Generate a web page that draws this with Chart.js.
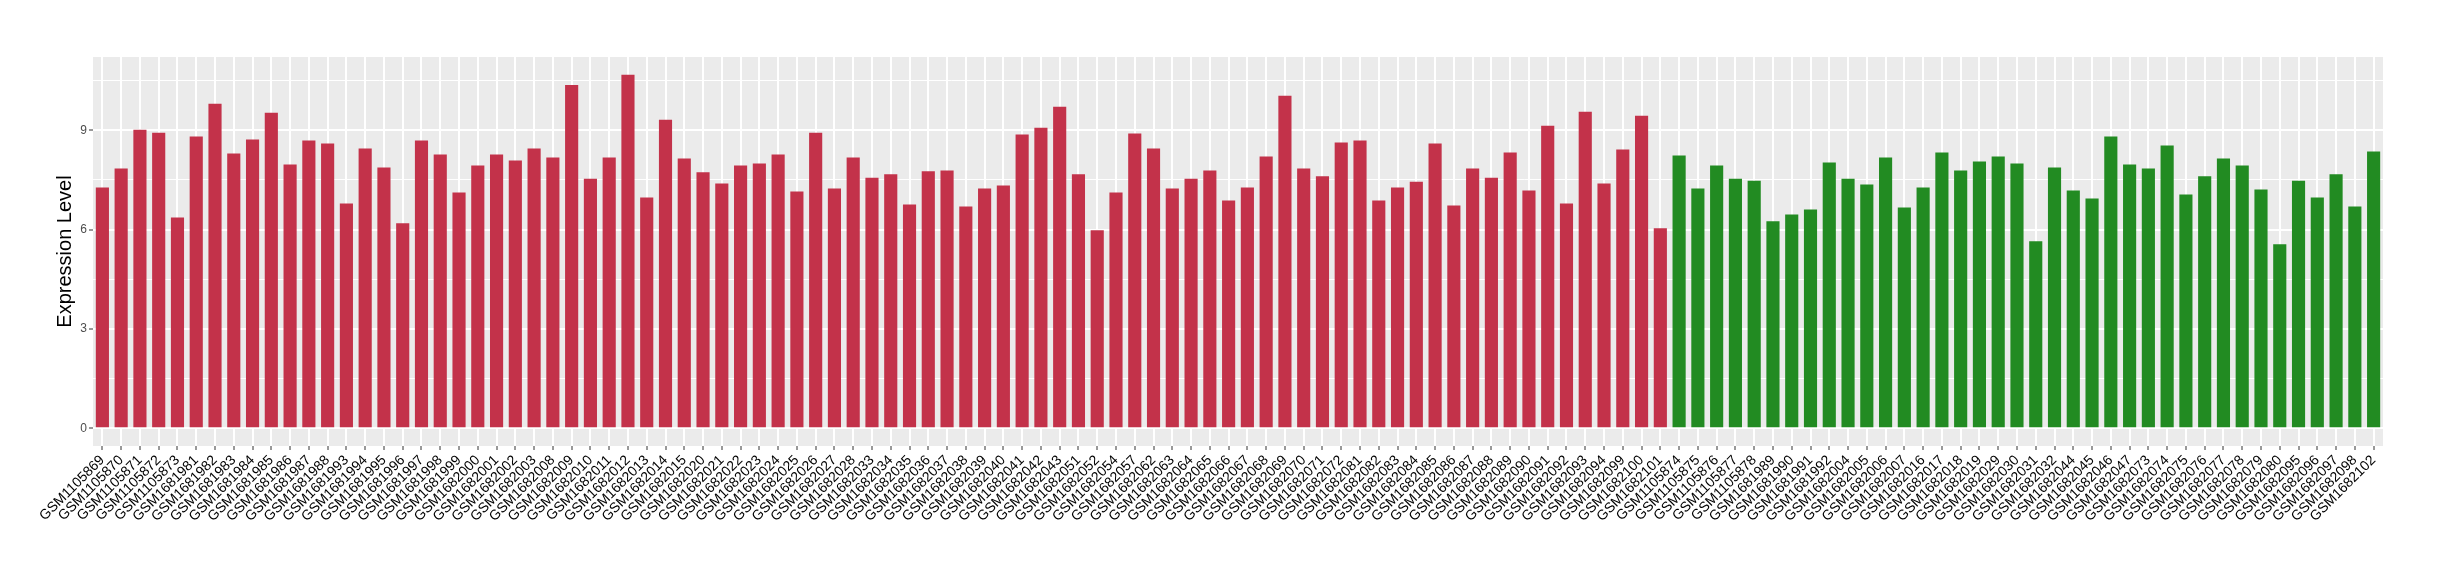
<!DOCTYPE html>
<html><head><meta charset="utf-8">
<script src="https://cdn.jsdelivr.net/npm/chart.js@4/dist/chart.umd.min.js"></script>
<style>html,body{margin:0;padding:0;background:#fff}#wrap{width:2440px;height:580px}</style>
</head><body><div id="wrap"><canvas id="c" width="2440" height="580"></canvas></div>
<script>
const groupASamples = ['GSM1105869','GSM1105870','GSM1105871','GSM1105872','GSM1105873','GSM1681981','GSM1681982','GSM1681983','GSM1681984','GSM1681985','GSM1681986','GSM1681987','GSM1681988','GSM1681993','GSM1681994','GSM1681995','GSM1681996','GSM1681997','GSM1681998','GSM1681999','GSM1682000','GSM1682001','GSM1682002','GSM1682003','GSM1682008','GSM1682009','GSM1682010','GSM1682011','GSM1682012','GSM1682013','GSM1682014','GSM1682015','GSM1682020','GSM1682021','GSM1682022','GSM1682023','GSM1682024','GSM1682025','GSM1682026','GSM1682027','GSM1682028','GSM1682033','GSM1682034','GSM1682035','GSM1682036','GSM1682037','GSM1682038','GSM1682039','GSM1682040','GSM1682041','GSM1682042','GSM1682043','GSM1682051','GSM1682052','GSM1682054','GSM1682057','GSM1682062','GSM1682063','GSM1682064','GSM1682065','GSM1682066','GSM1682067','GSM1682068','GSM1682069','GSM1682070','GSM1682071','GSM1682072','GSM1682081','GSM1682082','GSM1682083','GSM1682084','GSM1682085','GSM1682086','GSM1682087','GSM1682088','GSM1682089','GSM1682090','GSM1682091','GSM1682092','GSM1682093','GSM1682094','GSM1682099','GSM1682100','GSM1682101'];
const groupAValues = [7.27,7.85,9.02,8.93,6.37,8.81,9.80,8.30,8.72,9.53,7.97,8.69,8.60,6.79,8.45,7.88,6.19,8.69,8.27,7.12,7.94,8.27,8.09,8.45,8.18,10.37,7.54,8.18,10.68,6.97,9.32,8.15,7.73,7.39,7.94,8.00,8.27,7.15,8.93,7.24,8.18,7.57,7.67,6.76,7.76,7.79,6.70,7.24,7.33,8.87,9.08,9.71,7.67,5.98,7.12,8.90,8.45,7.24,7.54,7.79,6.88,7.27,8.21,10.04,7.85,7.61,8.63,8.69,6.88,7.27,7.45,8.60,6.73,7.85,7.57,8.33,7.18,9.14,6.79,9.56,7.39,8.42,9.44,6.04];
const groupBSamples = ['GSM1105874','GSM1105875','GSM1105876','GSM1105877','GSM1105878','GSM1681989','GSM1681990','GSM1681991','GSM1681992','GSM1682004','GSM1682005','GSM1682006','GSM1682007','GSM1682016','GSM1682017','GSM1682018','GSM1682019','GSM1682029','GSM1682030','GSM1682031','GSM1682032','GSM1682044','GSM1682045','GSM1682046','GSM1682047','GSM1682073','GSM1682074','GSM1682075','GSM1682076','GSM1682077','GSM1682078','GSM1682079','GSM1682080','GSM1682095','GSM1682096','GSM1682097','GSM1682098','GSM1682102'];
const groupBValues = [8.24,7.24,7.94,7.54,7.48,6.25,6.46,6.61,8.03,7.54,7.36,8.18,6.67,7.27,8.33,7.79,8.06,8.21,8.00,5.65,7.88,7.18,6.94,8.81,7.97,7.85,8.54,7.06,7.61,8.15,7.94,7.21,5.56,7.48,6.97,7.67,6.70,8.36];
const yMajorTicks = [0, 3, 6, 9];
const yMinorTicks = [1.5, 4.5, 7.5, 10.5];
const yAxisTitle = 'Expression Level';
const colorA = '#C3324A';
const colorB = '#228B22';

const labels = groupASamples.concat(groupBSamples);
const values = groupAValues.concat(groupBValues);
const colors = groupASamples.map(() => colorA).concat(groupBSamples.map(() => colorB));
const allYTicks = yMajorTicks.concat(yMinorTicks).sort((a, b) => a - b);
const dataMax = Math.max(...values);
const yPad = dataMax * 0.05;

const panelBg = {
  id: 'panelBg',
  beforeDraw(chart) {
    const a = chart.chartArea, ctx = chart.ctx;
    ctx.save();
    ctx.fillStyle = '#EBEBEB';
    ctx.fillRect(a.left, a.top, a.right - a.left, a.bottom - a.top);
    ctx.restore();
  }
};

new Chart(document.getElementById('c'), {
  type: 'bar',
  data: {
    labels: labels,
    datasets: [{
      data: values,
      backgroundColor: colors,
      borderWidth: 0,
      barPercentage: 0.7,
      categoryPercentage: 1.0
    }]
  },
  options: {
    responsive: false,
    animation: false,
    events: [],
    layout: { padding: { top: 57, right: 57, left: 0, bottom: 0 } },
    plugins: { legend: { display: false }, tooltip: { enabled: false } },
    scales: {
      x: {
        offset: true,
        border: { display: false },
        grid: { offset: false, color: '#FFFFFF', lineWidth: 2, tickColor: '#333333', tickLength: 4, tickWidth: 1 },
        ticks: {
          autoSkip: false, minRotation: 45, maxRotation: 45, padding: 2,
          color: '#000000',
          font: { family: "'Liberation Sans', Arial, sans-serif", size: 14 }
        },
        afterFit(scale) { scale.height = 134; }
      },
      y: {
        min: -yPad,
        max: dataMax + yPad,
        border: { display: false },
        afterBuildTicks(scale) { scale.ticks = allYTicks.map(v => ({ value: v })); },
        grid: {
          color: '#FFFFFF',
          lineWidth: ctx => (ctx.tick && yMajorTicks.includes(ctx.tick.value)) ? 2 : 1,
          tickColor: ctx => (ctx.tick && yMajorTicks.includes(ctx.tick.value)) ? '#333333' : 'rgba(0,0,0,0)',
          tickLength: 4,
          tickWidth: 1
        },
        ticks: {
          padding: 2,
          color: '#4D4D4D',
          font: { family: "'Liberation Sans', Arial, sans-serif", size: 12 },
          callback: v => yMajorTicks.includes(v) ? String(v) : ''
        },
        title: {
          display: true,
          text: yAxisTitle,
          color: '#000000',
          font: { family: "'Liberation Sans', Arial, sans-serif", size: 20 },
          padding: { top: 53, bottom: 0 }
        },
        afterFit(scale) { scale.width = 93; }
      }
    }
  },
  plugins: [panelBg]
});
</script>
</body></html>
